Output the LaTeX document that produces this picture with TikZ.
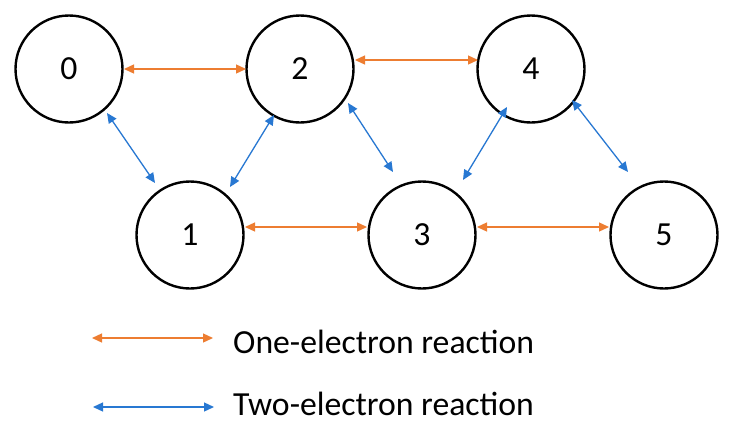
\documentclass[tikz,border=0pt]{standalone}
\usepackage{fontspec}
\setmainfont{Carlito}
\usetikzlibrary{arrows.meta}
\definecolor{oneorange}{RGB}{237,125,49}
\definecolor{twoblue}{RGB}{40,120,210}
\tikzset{
  state/.style={circle, draw=black, line width=2.4pt, minimum size=107pt, inner sep=0pt, fill=white,
    font=\fontsize{33.7}{40}\selectfont},
  onearrow/.style={draw=oneorange, line width=1.3pt, {Triangle[length=10pt,width=9pt]}-{Triangle[length=10pt,width=9pt]}},
  twoarrow/.style={draw=twoblue, line width=1.3pt, {Triangle[length=10pt,width=9pt]}-{Triangle[length=10pt,width=9pt]}},
  legendtext/.style={anchor=base west, inner sep=0pt, font=\fontsize{33.7}{40}\selectfont}
}
\begin{document}
\begin{tikzpicture}[x=1pt, y=-1pt]
\useasboundingbox[fill=white] (0,0) rectangle (733,434);
\node[state] (n0) at (69,69) {0};
\node[state] (n2) at (300,69) {2};
\node[state] (n4) at (531,69) {4};
\node[state] (n1) at (190,235) {1};
\node[state] (n3) at (422,235) {3};
\node[state] (n5) at (664,235) {5};
% one-electron
\draw[onearrow] ([shift={(55,0)}]n0.center) -- ([shift={(-54,0)}]n2.center);
\draw[onearrow] ([shift={(55,-9)}]n2.center) -- ([shift={(-53,-9)}]n4.center);
\draw[onearrow] ([shift={(55,-8)}]n1.center) -- ([shift={(-55,-8)}]n3.center);
\draw[onearrow] ([shift={(55,-8)}]n3.center) -- ([shift={(-55,-8)}]n5.center);
% two-electron
\draw[twoarrow] ([shift={(38,44)}]n0.center) -- ([shift={(-35,-52)}]n1.center);
\draw[twoarrow] ([shift={(-26,46)}]n2.center) -- ([shift={(40,-48)}]n1.center);
\draw[twoarrow] ([shift={(48,34)}]n2.center) -- ([shift={(-29,-63)}]n3.center);
\draw[twoarrow] ([shift={(-24,38)}]n4.center) -- ([shift={(41,-55)}]n3.center);
\draw[twoarrow] ([shift={(41,31)}]n4.center) -- ([shift={(-36,-63)}]n5.center);
% legend
\coordinate (lo1) at (92,338);
\coordinate (lo2) at (213,338);
\coordinate (lb1) at (93,407);
\coordinate (lb2) at (214,407);
\draw[onearrow] (lo1) -- (lo2);
\draw[twoarrow] (lb1) -- (lb2);
\node[legendtext] (t1) at (233,353) {One-electron reaction};
\node[legendtext] (t2) at (233,415) {Two-electron reaction};
\end{tikzpicture}
\end{document}
